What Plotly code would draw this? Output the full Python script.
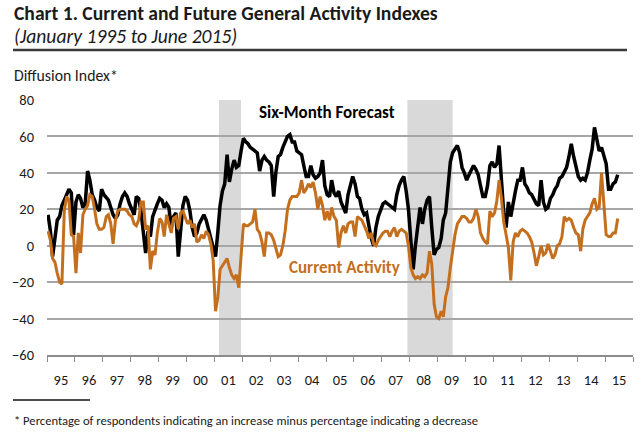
import pandas as pd
import plotly.graph_objects as go

# Monthly values, January 1995 to June 2015
future_activity = [
    17, 8, -6, 4, 14, 16, 22, 25, 28, 31, 29, 6,          # 1995
    24, 28, 26, 21, 23, 41, 36, 28, 25, 21, 19, 31,       # 1996
    28, 26, 25, 21, 17, 15, 17, 23, 27, 29, 27, 23,       # 1997
    20, 17, 27, 26, 19, 8, -4, 8, 5, 16, 20, 23,          # 1998
    26, 25, 21, 23, 21, 10, 16, 18, -6, 10, 22, 27,       # 1999
    25, 19, 10, 5, 7, 12, 15, 17, 14, 9, 3, -2,           # 2000
    -6, 8, 22, 30, 34, 50, 35, 42, 47, 43, 44, 52,        # 2001
    59, 57, 56, 54, 53, 52, 51, 41, 47, 49, 47, 46,       # 2002
    44, 27, 40, 49, 50, 54, 57, 60, 61, 57, 57, 52,       # 2003
    51, 50, 44, 38, 38, 44, 39, 37, 38, 40, 47, 33,       # 2004
    28, 27, 36, 29, 27, 30, 24, 21, 18, 28, 33, 38,       # 2005
    34, 27, 26, 20, 17, 18, 11, 4, 0, 10, 16, 19,         # 2006
    23, 24, 23, 22, 21, 20, 28, 33, 36, 38, 30, 20,       # 2007
    3, -13, 0, 12, 21, 12, 20, 25, 27, 10, -5, -2,        # 2008
    -1, 4, 14, 18, 32, 46, 51, 53, 55, 51, 43, 40,        # 2009
    36, 39, 41, 44, 42, 39, 33, 27, 27, 33, 44, 46,       # 2010
    43, 45, 55, 38, 18, 10, 24, 16, 24, 30, 36, 36,       # 2011
    43, 34, 32, 29, 28, 25, 23, 22, 36, 24, 20, 21,       # 2012
    26, 28, 31, 33, 37, 38, 41, 43, 49, 56, 49, 44,       # 2013
    38, 36, 37, 36, 40, 47, 53, 65, 58, 52, 54, 50,       # 2014
    45, 31, 31, 34, 35, 39,                               # 2015
]

current_activity = [
    8, 3, -7, -9, -15, -20, -21, 19, 27, 25, 6, 5,        # 1995
    -15, 7, -4, 17, 20, 22, 28, 27, 20, 12, 9, 9,         # 1996
    10, 16, 17, 12, 1, 14, 19, 20, 20, 20, 19, 17,        # 1997
    16, 12, 11, 14, 24, 24, 9, 11, -13, -3, -5, 7,        # 1998
    15, 13, 5, 17, 12, 7, 15, 16, 9, 18, 19, 16,          # 1999
    12, 14, 10, 12, 2, 3, 6, 4, 8, 6, 1, -8,              # 2000
    -36, -28, -13, -11, -9, -7, -12, -16, -18, -16, -23, -6,  # 2001
    12, 11, 11, 12, 13, 20, 9, 7, 2, -6, 7, 7,            # 2002
    6, 3, -2, -6, -5, 0, 8, 20, 25, 27, 27, 27,           # 2003
    29, 36, 29, 31, 34, 32, 35, 29, 20, 27, 22, 14,       # 2004
    19, 14, 21, 16, 14, -1, 7, 11, 7, 12, 13, 13,         # 2005
    5, 16, 15, 14, 11, 8, 4, 7, 1, 0, 3, 5,               # 2006
    7, 8, 8, 5, 8, 10, 5, 8, 9, 8, 7, 0,                  # 2007
    -12, -16, -18, -17, -18, -16, -17, -15, -3, -10, -32, -39,  # 2008
    -40, -36, -39, -28, -23, -12, -2, 6, 12, 14, 16, 16,  # 2009
    15, 13, 13, 15, 20, 16, 7, 4, 2, 1, 19, 16,           # 2010
    18, 25, 36, 26, 13, 6, -1, -19, 2, 7, 5, 8,           # 2011
    9, 8, 7, 5, 2, -4, -11, -6, 0, -5, -4, 1,             # 2012
    -3, -7, -5, 0, 1, 5, 16, 14, 15, 14, 10, 7,           # 2013
    6, -3, 9, 14, 16, 18, 23, 26, 20, 21, 40, 25,         # 2014
    6, 5, 5, 7, 7, 15,                                    # 2015
]

months = pd.date_range("1995-01-01", periods=len(future_activity), freq="MS") + pd.Timedelta(days=14)
months_cur = pd.date_range("1995-01-01", periods=len(current_activity), freq="MS") + pd.Timedelta(days=14)

recessions = [("2001-03-01", "2001-12-15"), ("2007-12-01", "2009-07-15")]

FONT = "Carlito, Calibri, Lato, sans-serif"
ORANGE = "#c46f1e"
TEXT = "#1a1a1a"

fig = go.Figure()
fig.add_trace(go.Scatter(x=months, y=future_activity, mode="lines",
                         line=dict(color="#000000", width=3.5),
                         hoverinfo="skip", showlegend=False))
fig.add_trace(go.Scatter(x=months_cur, y=current_activity, mode="lines",
                         line=dict(color=ORANGE, width=3.0),
                         hoverinfo="skip", showlegend=False))

for x0, x1 in recessions:
    fig.add_shape(type="rect", xref="x", yref="y", x0=x0, x1=x1, y0=-60, y1=80,
                  fillcolor="#d9d9d9", line=dict(width=0), layer="below")

L, R, T, B = 47, 7, 100, 83
pw = 640 - L - R
ph = 438 - T - B

def px(x):
    return (x - L) / pw

def py(y):
    return (438 - B - y) / ph

fig.add_annotation(xref="paper", yref="paper", x=px(12), y=py(13), xanchor="left", yanchor="middle",
                   text="<b>Chart 1. Current and Future General Activity Indexes</b>", height=20,
                   showarrow=False, font=dict(family=FONT, size=19.6, color=TEXT))
fig.add_annotation(xref="paper", yref="paper", x=px(12), y=py(36), xanchor="left", yanchor="middle",
                   text="<i>(January 1995 to June 2015)</i>", height=20,
                   showarrow=False, font=dict(family=FONT, size=19.6, color=TEXT))
fig.add_annotation(xref="paper", yref="paper", x=px(12), y=py(76), xanchor="left", yanchor="middle",
                   text="Diffusion Index*",
                   showarrow=False, font=dict(family=FONT, size=15.8, color=TEXT))
fig.add_annotation(xref="paper", yref="paper", x=px(12), y=py(420), xanchor="left", yanchor="middle",
                   text="* Percentage of respondents indicating an increase minus percentage indicating a decrease",
                   showarrow=False, font=dict(family=FONT, size=12.6, color=TEXT))
fig.add_annotation(xref="x", yref="y", x="2005-01-15", y=73, xanchor="center", yanchor="middle",
                   text="<b>Six-Month Forecast</b>", showarrow=False,
                   font=dict(family=FONT, size=17, color="#000000"))
fig.add_annotation(xref="x", yref="y", x="2005-08-25", y=-12, xanchor="center", yanchor="middle",
                   text="<b>Current Activity</b>", showarrow=False,
                   font=dict(family=FONT, size=17, color=ORANGE))

# rule under the subtitle (path shape, heavier) and rule above the footnote
fig.add_shape(type="path", xref="paper", yref="paper",
              path=f"M {px(13)},{py(50)} L {px(627)},{py(50)}",
              line=dict(color="#3a3a3a", width=2.5), layer="above")
fig.add_shape(type="line", xref="paper", yref="paper", x0=px(13), x1=px(90), y0=py(400), y1=py(400),
              line=dict(color="#4d4d4d", width=2), layer="above")

fig.update_layout(
    width=640, height=438,
    margin=dict(l=L, r=R, t=T, b=B),
    paper_bgcolor="white", plot_bgcolor="white",
    font=dict(family=FONT, color=TEXT),
    xaxis=dict(type="date", range=["1995-01-01", "2016-01-01"], dtick="M12", tick0="1995-01-01",
               tickformat="%y", ticklabelmode="period", ticks="outside", ticklen=5,
               tickcolor="#8c8c8c", tickwidth=1, showgrid=False, showline=True,
               linecolor="#8c8c8c", linewidth=1.5, tickfont=dict(size=14.5, color=TEXT),
               ticklabelstandoff=6, fixedrange=True),
    yaxis=dict(range=[-60, 80], dtick=20, showgrid=True, gridcolor="#a6a6a6", gridwidth=1.5,
               zeroline=False, showline=False, ticks="", tickfont=dict(size=14.5, color=TEXT),
               ticklabelstandoff=12, fixedrange=True),
)

fig.write_html("out.html", config={"displayModeBar": False},
               post_script="document.body.style.margin='0';")
